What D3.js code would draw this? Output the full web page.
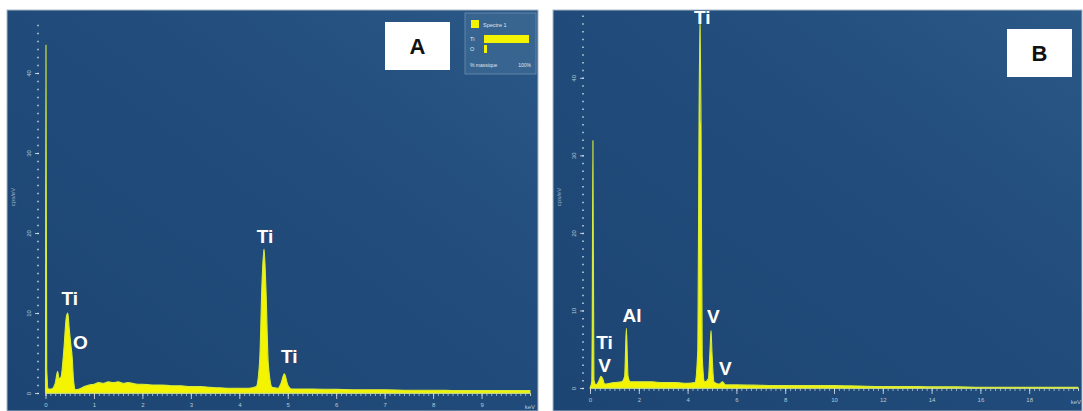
<!DOCTYPE html>
<html>
<head>
<meta charset="utf-8">
<script src="https://cdn.jsdelivr.net/npm/d3@7/dist/d3.min.js"></script>
<style>
  html, body { margin: 0; padding: 0; background: #ffffff; }
  svg { display: block; }
  text { font-family: "Liberation Sans", Arial, sans-serif; }
</style>
</head>
<body>
<svg id="chart" width="1083" height="411"></svg>
<script>
// EDS spectrum A: energy (keV), intensity (cps/eV)
const energyA = [0, 0.01, 0.025, 0.06, 0.12, 0.2, 0.25, 0.28, 0.32, 0.38, 0.43, 0.46, 0.49, 0.52, 0.55, 0.58, 0.62,
  0.7, 0.8, 0.9, 1.0, 1.1, 1.2, 1.3, 1.4, 1.5, 1.6, 1.7, 1.8, 1.9, 2.0, 2.2, 2.4, 2.6, 2.8, 3.0, 3.2, 3.4, 3.6, 3.8,
  4.0, 4.2, 4.35, 4.42, 4.47, 4.51, 4.55, 4.6, 4.68, 4.8, 4.86, 4.93, 5.0, 5.08, 5.5, 6.0, 6.5, 7.0, 7.5, 8.0, 8.5,
  9.0, 9.5, 10.0];
const countsA = [0.1, 4.35, 0.3, 0.05, 0.05, 0.12, 0.27, 0.18, 0.2, 0.55, 0.95, 1.0, 0.8, 0.62, 0.45, 0.15, 0.04,
  0.05, 0.08, 0.1, 0.11, 0.13, 0.12, 0.14, 0.13, 0.14, 0.12, 0.13, 0.12, 0.11, 0.11, 0.1, 0.1, 0.09, 0.09, 0.08,
  0.08, 0.07, 0.065, 0.06, 0.06, 0.06, 0.08, 0.4, 1.4, 1.8, 1.3, 0.35, 0.07, 0.06, 0.12, 0.24, 0.1, 0.05, 0.05, 0.045,
  0.04, 0.04, 0.035, 0.035, 0.03, 0.03, 0.03, 0.03];

// EDS spectrum B: energy (keV), intensity (cps/eV)
const energyB = [0, 0.08, 0.12, 0.16, 0.25, 0.35, 0.45, 0.52, 0.6, 0.8, 1.0, 1.3, 1.42, 1.49, 1.56, 1.65, 2.0, 2.5,
  3.0, 3.5, 4.0, 4.3, 4.42, 4.47, 4.51, 4.55, 4.6, 4.7, 4.85, 4.92, 4.96, 5.0, 5.08, 5.3, 5.43, 5.55, 6, 7, 8, 9, 10,
  11, 12, 13, 14, 15, 16, 17, 18, 19, 20];
const countsB = [0, 0.1, 3.19, 0.1, 0.04, 0.08, 0.15, 0.12, 0.05, 0.06, 0.07, 0.08, 0.15, 0.77, 0.15, 0.08, 0.08,
  0.08, 0.07, 0.07, 0.06, 0.07, 0.5, 3.5, 4.76, 3.4, 0.4, 0.08, 0.12, 0.5, 0.74, 0.45, 0.08, 0.05, 0.08, 0.04, 0.04,
  0.035, 0.03, 0.03, 0.03, 0.025, 0.02, 0.02, 0.015, 0.015, 0.01, 0.01, 0.01, 0.01, 0.01];

// peak labels: text, energy (keV), intensity at the text baseline (cps/eV)
const labelsA = [
  { text: "Ti", e: 0.5, v: 1.1 },
  { text: "O",  e: 0.72, v: 0.55 },
  { text: "Ti", e: 4.53, v: 1.88 },
  { text: "Ti", e: 5.03, v: 0.38 }
];
const labelsB = [
  { text: "Ti", e: 4.6, v: 4.69 },
  { text: "Al", e: 1.72, v: 0.85 },
  { text: "Ti", e: 0.6, v: 0.5 },
  { text: "V",  e: 0.6, v: 0.2 },
  { text: "V",  e: 5.05, v: 0.84 },
  { text: "V",  e: 5.55, v: 0.17 }
];

const xTicksA = [0, 1, 2, 3, 4, 5, 6, 7, 8, 9];
const xTicksB = [0, 2, 4, 6, 8, 10, 12, 14, 16, 18];
const yTicks = [0, 1, 2, 3, 4];

// legend of spectrum A (element, mass %)
const legendElems = ["Ti", "O"];
const legendMass = [100, 4];

const svg = d3.select("#chart");
const defs = svg.append("defs");
const grad = defs.append("linearGradient").attr("id", "bg")
  .attr("x1", "0%").attr("y1", "100%").attr("x2", "100%").attr("y2", "0%");
grad.append("stop").attr("offset", "0%").attr("stop-color", "#1d4573");
grad.append("stop").attr("offset", "60%").attr("stop-color", "#214c7b");
grad.append("stop").attr("offset", "100%").attr("stop-color", "#2a5887");

function panel(cfg) {
  const g = svg.append("g");
  g.append("rect").attr("x", cfg.left).attr("y", 10).attr("width", cfg.width).attr("height", 401)
    .attr("fill", "url(#bg)").attr("stroke", "#a9b7c6").attr("stroke-width", 1);

  const x = d3.scaleLinear().domain(cfg.xDomain).range(cfg.xRange);
  const y = d3.scaleLinear().domain(cfg.yDomain).range(cfg.yRange);

  // x axis: minor then major ticks
  const base = cfg.yRange[0];
  g.append("g").attr("transform", `translate(0,${base})`)
    .call(d3.axisBottom(x).tickValues(d3.range(cfg.xDomain[0], cfg.xDomain[1] + 1e-9, cfg.minorX))
      .tickSize(3).tickFormat(""))
    .call(a => a.select(".domain").attr("stroke", "#c9d6e4").attr("stroke-opacity", 0.8))
    .call(a => a.selectAll(".tick line").attr("stroke", "#c9d6e4").attr("stroke-opacity", 0.7));
  g.append("g").attr("transform", `translate(0,${base})`)
    .call(d3.axisBottom(x).tickValues(cfg.xTicks).tickSize(6).tickPadding(4))
    .call(a => a.select(".domain").remove())
    .call(a => a.selectAll(".tick line").attr("stroke", "#dbe4ee").attr("stroke-opacity", 0.8))
    .call(a => a.selectAll(".tick text").attr("fill", "#b9c9da").attr("font-size", 6)
      .attr("font-family", "Liberation Sans, Arial, sans-serif"));
  g.append("text").attr("x", Math.min(x(cfg.xDomain[1]) + 5, cfg.left + cfg.width - 1)).attr("y", base + 16)
    .attr("text-anchor", "end")
    .attr("font-size", 6).attr("fill", "#b9c9da").text("keV");

  // y axis
  const yAxisX = cfg.yAxisX;
  g.append("g").attr("transform", `translate(${yAxisX},0)`)
    .call(d3.axisLeft(y).tickValues(d3.range(0, cfg.yDomain[1], 0.1)).tickSize(2).tickFormat(""))
    .call(a => a.select(".domain").remove())
    .call(a => a.selectAll(".tick line").attr("stroke", "#c9d6e4").attr("stroke-opacity", 0.75).attr("stroke-width", 1.5));
  g.append("g").attr("transform", `translate(${yAxisX},0)`)
    .call(d3.axisLeft(y).tickValues(yTicks).tickSize(4).tickFormat(d => d === 0 ? "0" : d3.format("d")(d * 10)))
    .call(a => a.select(".domain").remove())
    .call(a => a.selectAll(".tick line").attr("stroke", "#dbe4ee").attr("stroke-opacity", 0.8))
    .call(a => a.selectAll(".tick text").attr("fill", "#b9c9da").attr("font-size", 6)
      .attr("transform", function () {
        const t = d3.select(this);
        return `rotate(-90,${t.attr("x") || -7},0)`;
      })
      .attr("text-anchor", "middle").attr("dy", "-1"));
  g.append("text")
    .attr("transform", `translate(${cfg.yLabelX},197) rotate(-90)`)
    .attr("text-anchor", "middle").attr("font-size", 6).attr("fill", "#9fb3c9").text("cps/eV");

  // spectrum
  const pts = cfg.energy.map((e, i) => [e, cfg.counts[i]]);
  const area = d3.area().x(d => x(d[0])).y0(base).y1(d => y(d[1])).curve(d3.curveMonotoneX);
  g.append("path").datum(pts).attr("d", area)
    .attr("fill", "#f4f400").attr("stroke", "#d7ec3a").attr("stroke-width", 1.1).attr("stroke-linejoin", "round");

  // peak labels
  g.selectAll("text.peak").data(cfg.labels).join("text").attr("class", "peak")
    .attr("x", d => x(d.e)).attr("y", d => y(d.v)).attr("text-anchor", "middle")
    .attr("font-size", 19).attr("font-weight", "bold").attr("fill", "#ffffff")
    .attr("stroke", "#3b5577").attr("stroke-width", 0.4).attr("paint-order", "stroke")
    .text(d => d.text);

  // panel tag
  g.append("rect").attr("x", cfg.tag.x).attr("y", cfg.tag.y).attr("width", 65).attr("height", 48).attr("fill", "#ffffff");
  g.append("text").attr("x", cfg.tag.x + 32.5).attr("y", cfg.tag.y + 32).attr("text-anchor", "middle")
    .attr("font-size", 22).attr("font-weight", "bold").attr("fill", "#111").text(cfg.tag.text);
  return { g, x, y };
}

const A = panel({
  left: 7, width: 531,
  xDomain: [0, 10], xRange: [45.5, 530], minorX: 0.1, xTicks: xTicksA,
  yDomain: [0, 4.7], yRange: [393, 17], yAxisX: 39, yLabelX: 15,
  energy: energyA, counts: countsA, labels: labelsA,
  tag: { x: 385, y: 22, text: "A" }
});

const B = panel({
  left: 553, width: 529,
  xDomain: [0, 20], xRange: [590, 1078], minorX: 0.2, xTicks: xTicksB,
  yDomain: [0, 4.9], yRange: [388, 8], yAxisX: 584, yLabelX: 561,
  energy: energyB, counts: countsB, labels: labelsB,
  tag: { x: 1007, y: 29, text: "B" }
});

// legend box of spectrum A
const lg = A.g.append("g").attr("transform", "translate(465,13)");
lg.append("rect").attr("width", 71).attr("height", 61).attr("fill", "#3a6792").attr("fill-opacity", 0.85)
  .attr("stroke", "#6f8fb0").attr("stroke-width", 0.8);
lg.append("rect").attr("x", 6).attr("y", 7).attr("width", 8).attr("height", 8).attr("fill", "#f4f400");
lg.append("text").attr("x", 18).attr("y", 14).attr("font-size", 5.5).attr("fill", "#dfe8f2").text("Spectre 1");
const barScale = d3.scaleLinear().domain([0, 100]).range([0, 45]);
legendElems.forEach((el, i) => {
  const yy = 22 + i * 10;
  lg.append("text").attr("x", 5).attr("y", yy + 6).attr("font-size", 5.5).attr("fill", "#dfe8f2").text(el);
  lg.append("rect").attr("x", 19).attr("y", yy).attr("width", Math.max(3, barScale(legendMass[i])))
    .attr("height", 8).attr("fill", "#f4f400");
});
lg.append("text").attr("x", 5).attr("y", 54).attr("font-size", 5).attr("fill", "#dfe8f2").text("% massique");
lg.append("text").attr("x", 66).attr("y", 54).attr("text-anchor", "end").attr("font-size", 5).attr("fill", "#dfe8f2").text("100%");
</script>
</body>
</html>
